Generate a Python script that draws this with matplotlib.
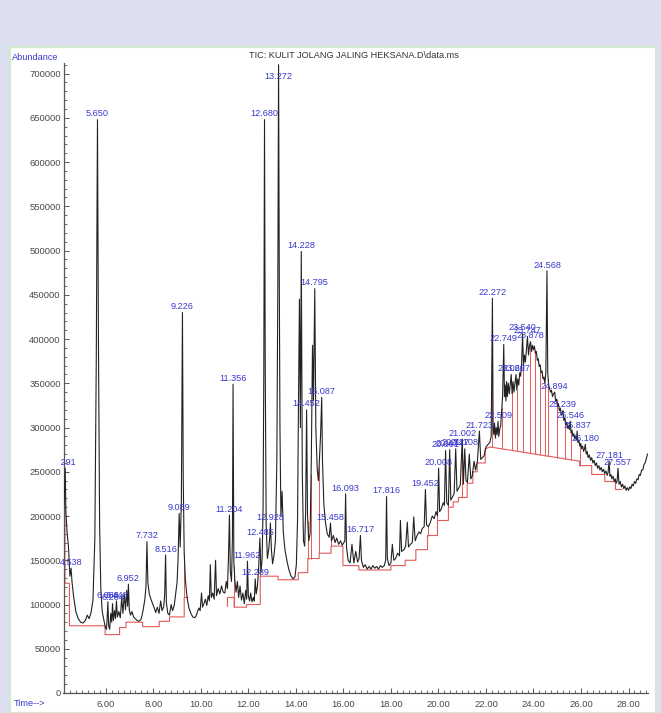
import numpy as np
import matplotlib
matplotlib.use("Agg")
import matplotlib.pyplot as plt
from matplotlib.patches import Rectangle
from matplotlib.transforms import Bbox
from matplotlib.ticker import MultipleLocator, FormatStrFormatter

# ---- Total ion chromatogram, (retention time [min], abundance) by time window ----
tic_04_06 = [
    (4.22, 208000), (4.25, 218000), (4.291, 254000), (4.32, 205000), (4.37, 182000),
    (4.43, 165000), (4.49, 132000), (4.538, 141000), (4.58, 125000), (4.65, 108000),
    (4.74, 92000), (4.84, 84000), (4.94, 80000), (5.04, 79000), (5.14, 82000),
    (5.22, 88000), (5.30, 84000), (5.38, 91000), (5.46, 105000), (5.54, 175000),
    (5.60, 380000), (5.650, 648000), (5.69, 400000), (5.74, 190000), (5.79, 118000),
    (5.85, 92000), (5.92, 82000),
]
tic_06_10 = [
    (5.98, 74000), (6.03, 72000), (6.06, 86000), (6.088, 103000), (6.12, 76000),
    (6.164, 72000), (6.21, 90000), (6.25, 80000), (6.284, 101000), (6.32, 82000),
    (6.37, 93000), (6.41, 84000), (6.448, 104000), (6.49, 86000), (6.55, 92000),
    (6.61, 85000), (6.67, 108000), (6.72, 90000), (6.78, 112000), (6.83, 94000),
    (6.88, 116000), (6.92, 98000), (6.952, 123000), (6.99, 94000), (7.04, 88000),
    (7.10, 92000), (7.17, 86000), (7.24, 84000), (7.32, 82000), (7.40, 81000),
    (7.48, 83000), (7.56, 92000), (7.64, 105000), (7.69, 120000), (7.732, 171000),
    (7.77, 125000), (7.83, 112000), (7.90, 106000), (7.97, 101000), (8.04, 96000),
    (8.10, 91000), (8.17, 97000), (8.24, 90000), (8.31, 104000), (8.37, 93000),
    (8.44, 98000), (8.48, 112000), (8.516, 156000), (8.55, 102000), (8.61, 90000),
    (8.68, 88000), (8.75, 100000), (8.81, 93000), (8.88, 99000), (8.94, 112000),
    (9.00, 125000), (9.04, 150000), (9.089, 203000), (9.13, 165000), (9.18, 215000),
    (9.226, 430000), (9.26, 240000), (9.30, 158000), (9.35, 128000), (9.42, 108000),
    (9.50, 96000), (9.58, 90000), (9.66, 86000), (9.74, 85000), (9.80, 87000),
]
tic_10_12 = [
    (9.86, 92000), (9.92, 96000), (9.97, 93000), (10.03, 113000), (10.07, 97000),
    (10.13, 101000), (10.19, 106000), (10.25, 99000), (10.31, 110000), (10.36, 104000),
    (10.40, 145000), (10.44, 108000), (10.50, 113000), (10.56, 106000), (10.62, 150000),
    (10.66, 110000), (10.73, 118000), (10.80, 112000), (10.87, 121000), (10.94, 114000),
    (11.01, 113000), (11.07, 126000), (11.12, 118000), (11.16, 150000), (11.204, 201000),
    (11.24, 138000), (11.29, 126000), (11.33, 175000), (11.356, 349000), (11.39, 148000),
    (11.43, 128000), (11.48, 114000), (11.54, 126000), (11.59, 108000), (11.65, 121000),
    (11.71, 105000), (11.77, 113000), (11.83, 101000), (11.89, 116000), (11.93, 106000),
    (11.962, 149000), (12.00, 110000),
]
tic_12_14 = [
    (12.05, 104000), (12.10, 113000), (12.15, 103000), (12.21, 108000), (12.25, 104000),
    (12.289, 129000), (12.33, 112000), (12.38, 120000), (12.43, 140000), (12.485, 175000),
    (12.53, 136000), (12.58, 152000), (12.62, 210000), (12.65, 360000), (12.680, 648000),
    (12.71, 370000), (12.75, 190000), (12.80, 152000), (12.86, 163000), (12.90, 176000),
    (12.928, 192000), (12.97, 162000), (13.02, 146000), (13.08, 156000), (13.14, 172000),
    (13.20, 265000), (13.24, 460000), (13.272, 710000), (13.30, 480000), (13.33, 300000),
    (13.37, 200000), (13.42, 228000), (13.47, 182000), (13.54, 162000), (13.62, 150000),
    (13.70, 140000), (13.78, 133000), (13.88, 129000), (13.96, 131000),
]
tic_14_16 = [
    (14.02, 145000), (14.07, 195000), (14.11, 330000), (14.15, 445000), (14.19, 300000),
    (14.228, 499000), (14.27, 250000), (14.32, 172000), (14.37, 166000), (14.41, 205000),
    (14.452, 320000), (14.49, 200000), (14.54, 172000), (14.60, 180000), (14.65, 265000),
    (14.70, 393000), (14.74, 330000), (14.795, 457000), (14.84, 300000), (14.90, 252000),
    (14.95, 240000), (15.00, 268000), (15.04, 292000), (15.087, 334000), (15.12, 262000),
    (15.18, 212000), (15.25, 192000), (15.32, 180000), (15.40, 176000), (15.458, 192000),
    (15.50, 172000), (15.58, 178000), (15.65, 170000), (15.72, 175000), (15.80, 168000),
    (15.88, 172000), (15.95, 167000), (16.02, 170000),
]
tic_16_18 = [
    (16.06, 172000), (16.093, 225000), (16.13, 165000), (16.20, 150000), (16.28, 147000),
    (16.36, 168000), (16.44, 147000), (16.52, 160000), (16.60, 148000), (16.66, 152000),
    (16.717, 178000), (16.76, 150000), (16.84, 142000), (16.92, 145000), (17.00, 140000),
    (17.08, 143000), (17.16, 140000), (17.24, 144000), (17.32, 141000), (17.40, 143000),
    (17.48, 140000), (17.56, 144000), (17.64, 142000), (17.72, 144000), (17.78, 150000),
    (17.816, 222000), (17.85, 152000), (17.92, 144000),
]
tic_18_22 = [
    (18.00, 147000), (18.06, 168000), (18.12, 150000), (18.20, 152000), (18.28, 158000),
    (18.36, 155000), (18.40, 195000), (18.45, 160000), (18.55, 162000), (18.62, 166000),
    (18.69, 193000), (18.74, 165000), (18.82, 168000), (18.90, 170000), (18.96, 199000),
    (19.02, 172000), (19.10, 178000), (19.18, 182000), (19.25, 180000), (19.32, 186000),
    (19.40, 188000), (19.452, 230000), (19.50, 190000), (19.58, 188000), (19.66, 193000),
    (19.74, 200000), (19.82, 197000), (19.90, 205000), (19.96, 200000), (20.008, 254000),
    (20.05, 205000), (20.12, 208000), (20.20, 215000), (20.25, 212000), (20.301, 274000),
    (20.35, 215000), (20.42, 212000), (20.474, 275000), (20.52, 218000), (20.60, 222000),
    (20.66, 225000), (20.727, 276000), (20.78, 228000), (20.86, 232000), (20.92, 235000),
    (21.002, 287000), (21.05, 236000), (21.108, 276000), (21.16, 240000), (21.22, 238000),
    (21.30, 270000), (21.36, 242000), (21.42, 245000), (21.50, 262000), (21.56, 252000),
    (21.64, 262000), (21.723, 296000), (21.78, 264000), (21.85, 266000), (21.92, 268000),
    (22.00, 278000), (22.06, 280000), (22.16, 283000), (22.22, 290000),
]
tic_22_25 = [
    (22.272, 446000), (22.30, 300000), (22.33, 292000), (22.36, 305000), (22.40, 288000),
    (22.43, 300000), (22.47, 292000), (22.509, 307000), (22.54, 290000), (22.58, 298000),
    (22.62, 302000), (22.65, 315000), (22.70, 335000), (22.749, 394000), (22.78, 335000),
    (22.81, 348000), (22.84, 330000), (22.87, 352000), (22.90, 335000), (22.94, 350000),
    (22.98, 338000), (23.02, 348000), (23.062, 360000), (23.10, 338000), (23.14, 352000),
    (23.18, 340000), (23.22, 350000), (23.267, 360000), (23.30, 342000), (23.34, 355000),
    (23.38, 348000), (23.42, 362000), (23.46, 358000), (23.50, 372000), (23.540, 406000),
    (23.58, 370000), (23.62, 382000), (23.66, 374000), (23.70, 388000), (23.747, 403000),
    (23.79, 382000), (23.83, 392000), (23.878, 397000), (23.92, 386000), (23.96, 393000),
    (24.00, 388000), (24.04, 392000), (24.08, 384000), (24.12, 386000), (24.16, 376000),
    (24.20, 378000), (24.24, 369000), (24.28, 371000), (24.32, 362000), (24.36, 364000),
    (24.40, 355000), (24.44, 357000), (24.48, 350000), (24.52, 362000), (24.568, 477000),
    (24.60, 362000), (24.64, 348000), (24.68, 344000), (24.72, 340000), (24.76, 342000),
    (24.80, 335000), (24.84, 338000), (24.894, 340000), (24.93, 330000), (24.97, 332000),
]
tic_25_29 = [
    (25.01, 324000), (25.05, 327000), (25.09, 319000), (25.13, 322000), (25.17, 314000),
    (25.21, 316000), (25.239, 319000), (25.28, 308000), (25.32, 311000), (25.36, 303000),
    (25.40, 306000), (25.44, 299000), (25.48, 302000), (25.51, 298000), (25.546, 307000),
    (25.58, 294000), (25.62, 297000), (25.66, 290000), (25.70, 293000), (25.74, 287000),
    (25.78, 290000), (25.81, 286000), (25.837, 296000), (25.87, 283000), (25.91, 286000),
    (25.95, 279000), (25.99, 282000), (26.03, 276000), (26.07, 279000), (26.11, 273000),
    (26.15, 276000), (26.180, 281000), (26.22, 270000), (26.26, 273000), (26.30, 266000),
    (26.35, 269000), (26.40, 263000), (26.45, 266000), (26.50, 260000), (26.55, 263000),
    (26.60, 257000), (26.65, 260000), (26.70, 254000), (26.75, 257000), (26.80, 252000),
    (26.85, 255000), (26.90, 250000), (26.95, 253000), (27.00, 248000), (27.05, 251000),
    (27.10, 246000), (27.14, 249000), (27.181, 262000), (27.22, 245000), (27.26, 247000),
    (27.30, 242000), (27.35, 245000), (27.40, 239000), (27.44, 242000), (27.48, 237000),
    (27.52, 240000), (27.557, 254000), (27.60, 236000), (27.65, 239000), (27.70, 233000),
    (27.75, 236000), (27.80, 231000), (27.85, 234000), (27.90, 229000), (27.95, 232000),
    (28.00, 229000), (28.05, 233000), (28.10, 231000), (28.15, 236000), (28.20, 234000),
    (28.25, 239000), (28.30, 237000), (28.35, 242000), (28.40, 241000), (28.45, 247000),
    (28.50, 246000), (28.55, 252000), (28.60, 252000), (28.65, 258000), (28.70, 260000),
    (28.75, 265000), (28.80, 270000),
]

# ---- Integration baseline (step segments) ----
baseline_early = [
    (4.28, 214000), (4.28, 124000), (4.47, 124000), (4.47, 76000), (5.97, 76000),
    (5.97, 66000), (6.58, 66000), (6.58, 74000), (6.85, 74000), (6.85, 80000),
    (7.55, 80000), (7.55, 75000), (8.25, 75000), (8.25, 81000), (8.68, 81000),
    (8.68, 86000), (9.30, 86000), (9.30, 108000), (9.45, 108000),
]
baseline_late = [
    (11.12, 98000), (11.12, 108000), (11.40, 108000), (11.40, 97000), (11.92, 97000),
    (11.92, 100000), (12.50, 100000), (12.50, 132000), (13.25, 132000), (13.25, 128000),
    (14.10, 128000), (14.10, 136000), (14.50, 136000), (14.50, 152000), (14.98, 152000),
    (14.98, 158000), (15.48, 158000), (15.48, 166000), (15.98, 166000), (15.98, 144000),
    (16.65, 144000), (16.65, 139000), (18.00, 139000), (18.00, 144000), (18.60, 144000),
    (18.60, 150000), (19.05, 150000), (19.05, 162000), (19.54, 162000), (19.54, 178000),
    (19.96, 178000), (19.96, 195000), (20.42, 195000), (20.42, 210000), (20.62, 210000),
    (20.62, 216000), (20.84, 216000), (20.84, 221000), (21.21, 221000), (21.21, 237000),
    (21.45, 237000), (21.45, 250000), (21.63, 250000), (21.63, 260000), (21.97, 260000),
    (21.97, 276000), (22.18, 278000), (25.94, 262000), (25.94, 257000), (26.45, 257000),
    (26.45, 247000), (27.00, 247000), (27.00, 239000), (27.45, 239000), (27.45, 230000),
    (27.72, 230000),
]
# peak-boundary drop lines (baseline up to the signal)
drop_times = [
    9.30, 11.40, 12.50, 14.50, 14.64, 14.98, 15.48, 19.54, 19.96, 20.42, 21.00, 21.21,
    21.45, 21.97, 22.25, 22.67, 23.09, 23.30, 23.57, 23.85, 24.06, 24.27, 24.48, 24.62,
    24.97, 25.31, 25.59, 25.94,
]

# ---- Retention-time labels ----
peak_labels = [
    "4.291", "4.538", "5.650", "6.088", "6.284", "6.448", "6.952", "7.732", "8.516",
    "9.089", "9.226", "11.204", "11.356", "11.962", "12.289", "12.485", "12.680",
    "12.928", "13.272", "14.228", "14.452", "14.795", "15.087", "15.458", "16.093",
    "16.717", "17.816", "19.452", "20.008", "20.301", "20.474", "20.727", "21.002",
    "21.108", "21.723", "22.272", "22.509", "22.749", "23.062", "23.267", "23.540",
    "23.747", "23.878", "24.568", "24.894", "25.239", "25.546", "25.837", "26.180",
    "27.181", "27.557",
]

y_ticks = list(range(0, 700001, 50000))
x_ticks = [6, 8, 10, 12, 14, 16, 18, 20, 22, 24, 26, 28]
title = "TIC: KULIT JOLANG JALING HEKSANA.D\\data.ms"

# ---- assemble series ----
tic = (tic_04_06 + tic_06_10 + tic_10_12 + tic_12_14 + tic_14_16 + tic_16_18
       + tic_18_22 + tic_22_25 + tic_25_29)
tic_t = np.array([p[0] for p in tic])
tic_a = np.array([p[1] for p in tic], dtype=float)

base_pts = baseline_early + [(np.nan, np.nan)] + baseline_late
base_t = np.array([p[0] for p in base_pts], dtype=float)
base_a = np.array([p[1] for p in base_pts], dtype=float)
ok = ~np.isnan(base_t)

W, H = 661, 713
fig = plt.figure(figsize=(W / 100, H / 100), dpi=100)
fig.patch.set_facecolor("#dcdff0")
fig.patches.append(Rectangle((10 / W, 0), 646 / W, 666 / H, transform=fig.transFigure,
                             facecolor="white", edgecolor="#cfeacf", lw=1.5, zorder=-5))

ax = fig.add_axes([63.5 / W, 20 / H, 584.5 / W, 630 / H])
ax.set_zorder(2)
ax.set_facecolor("none")
ax.set_xlim(4.22, 28.82)
ax.set_ylim(0, 712000)

# baseline + drop lines
red = "#e35a5a"
ax.plot(base_t, base_a, color=red, lw=0.8, zorder=2)
drop_bottom = np.interp(drop_times, base_t[ok], base_a[ok])
drop_top = np.interp(drop_times, tic_t, tic_a)
ax.vlines(drop_times, drop_bottom, drop_top, color=red, lw=0.7, zorder=2)

# chromatogram
ax.plot(tic_t, tic_a, color="#222222", lw=0.8, zorder=3)

# peak labels (clipped just left of the y axis)
label_cap = 690000
blue = "#3a3acc"
label_clip = Bbox.from_extents(60, 0, W, H)
for lab in peak_labels:
    rt = float(lab)
    h = min(np.interp(rt, tic_t, tic_a), label_cap)
    t = ax.annotate(lab, (rt, h), xytext=(0, 1), textcoords="offset points",
                    ha="center", va="bottom", fontsize=6.6, color=blue,
                    family="Liberation Sans", zorder=4, annotation_clip=False)
    t.set_clip_on(True)
    t.set_clip_box(label_clip)

# axes styling
for s in ("top", "right"):
    ax.spines[s].set_visible(False)
for s in ("left", "bottom"):
    ax.spines[s].set_color("#555555")
    ax.spines[s].set_linewidth(0.9)

ax.set_xticks(x_ticks)
ax.xaxis.set_major_formatter(FormatStrFormatter("%.2f"))
ax.xaxis.set_minor_locator(MultipleLocator(0.25))
ax.set_yticks(y_ticks)
ax.yaxis.set_major_formatter(FormatStrFormatter("%d"))
ax.yaxis.set_minor_locator(MultipleLocator(10000))
ax.tick_params(which="major", direction="in", length=3.5, width=0.7, colors="#555555",
               labelsize=6.8)
ax.tick_params(which="minor", direction="in", length=2, width=0.6, colors="#555555")
ax.tick_params(axis="x", which="major", pad=5)
ax.tick_params(axis="y", which="major", pad=2)
for lbl in ax.get_xticklabels() + ax.get_yticklabels():
    lbl.set_family("Liberation Sans")
    lbl.set_color("#4a4a4a")

fig.text(12 / W, 1 - 57 / H, "Abundance", color=blue, fontsize=6.6,
         family="Liberation Sans", ha="left", va="center")
fig.text(354 / W, 1 - 56 / H, title, color="#333333", fontsize=6.6,
         family="Liberation Sans", ha="center", va="center")
fig.text(14 / W, 1 - 703 / H, "Time-->", color=blue, fontsize=6.6,
         family="Liberation Sans", ha="left", va="center")

fig.savefig("out.png", dpi=100, facecolor=fig.get_facecolor())
